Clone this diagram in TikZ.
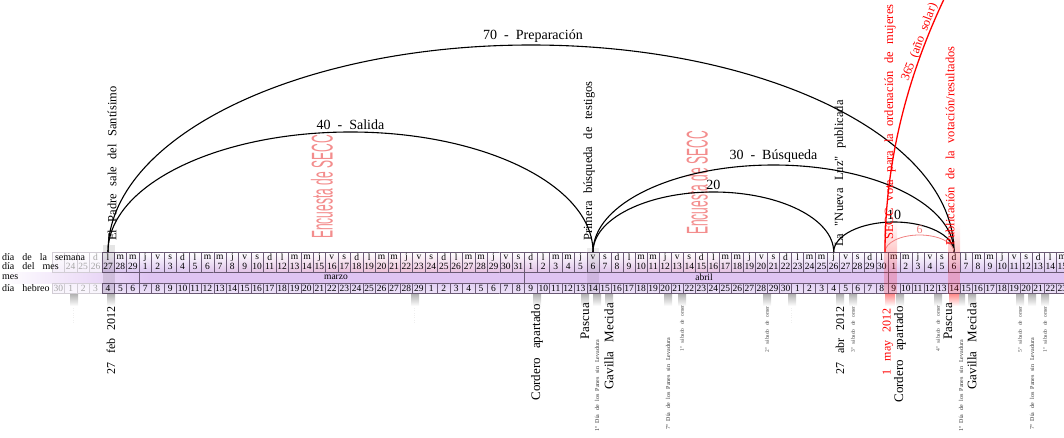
\documentclass[tikz,border=0pt]{standalone}
\usepackage{fontspec}
\setmainfont{Liberation Serif}[Ligatures=TeXOff]
\newfontfamily\condsans{Liberation Sans}
\definecolor{lav}{HTML}{DCC6F0}
\definecolor{pinkc}{HTML}{F2BCD0}
\definecolor{monthc}{HTML}{DFC4F2}
\definecolor{hebc}{HTML}{E2D0F4}
\definecolor{cellline}{HTML}{6A5A74}
\definecolor{seccred}{HTML}{EE5C5C}
\definecolor{lightred}{HTML}{F08080}
\tikzset{
  wide/.style={execute at begin node={\spaceskip=#1em\relax}},
  arcline/.style={line width=1.1pt, black},
  arclabel/.style={anchor=south, inner sep=1.5pt, font=\fontsize{14}{16}\selectfont, wide=0.5},
  uplabel/.style={rotate=90, anchor=west, inner sep=0pt, font=\fontsize{12.5}{14}\selectfont, wide=0.6},
  downlabel/.style={rotate=90, anchor=east, inner sep=0pt, font=\fontsize{12}{14}\selectfont, wide=0.7},
  biglabel/.style={downlabel, font=\fontsize{13}{15}\selectfont},
  smalllabel/.style={rotate=90, anchor=east, inner sep=0pt, text=black!80, font=\fontsize{6}{7}\selectfont, wide=0.6},
  tinylabel/.style={rotate=90, anchor=east, inner sep=0pt, text=black!70, font=\fontsize{5.5}{6}\selectfont, wide=0.6},
  dotlabel/.style={rotate=90, anchor=east, inner sep=0pt, text=black!40, font=\fontsize{4}{5}\selectfont},
  rowlabel/.style={anchor=west, inner sep=0pt, font=\fontsize{10}{11}\selectfont, wide=0.8},
  celltext/.style={inner sep=0pt, font=\fontsize{9.5}{10}\selectfont},
  shadowbar/.style={top color=black!30, bottom color=white},
  redbar/.style={top color=red!45, bottom color=white},
  encuesta/.style={rotate=90, inner sep=0pt, text=seccred, opacity=0.7, font=\condsans\fontsize{30}{30}\selectfont},
}
\begin{document}
\begin{tikzpicture}[x=1pt,y=1pt]
\useasboundingbox (0,0) rectangle (1064,-438);
\clip (0,0) rectangle (1064,-438);
% red glow columns above the table
\path[top color=white, bottom color=red!22] (884,-222) rectangle (897,-252);
\path[top color=white, bottom color=red!22] (948,-222) rectangle (960,-252);
% survey texts
\node[encuesta] (enc1) at (322,-187) {\scalebox{0.4}[1]{Encuesta de SECC}};
\node[encuesta] (enc2) at (697,-183) {\scalebox{0.4}[1]{Encuesta de SECC}};
% month band
\path[left color=white, right color=monthc] (0,-272) rectangle (150,-283);
\fill[monthc] (150,-272) rectangle (1064,-283);
\draw[cellline, line width=0.4pt] (139.1,-272) -- (139.1,-283);
\draw[cellline, line width=0.4pt] (524.6,-272) -- (524.6,-283);
\draw[cellline, line width=0.4pt] (887.8,-272) -- (887.8,-283);
\node[celltext] (marzo) at (336,-277.5) {marzo};
\node[celltext] (abril) at (704,-277.5) {abril};
% day cells
\foreach \d in {-4,...,78}{
  \pgfmathsetmacro{\myx}{\d<40 ? 108+12.436*\d : 593+12.033*(\d-39)}
  \pgfmathsetmacro{\myhw}{\d<40 ? 6.218 : 6.017}
  \pgfmathsetmacro{\mypk}{max(0, 1-abs(\myx-390)/220, 0.7*(1-abs(\myx-690)/120))*80}
  \pgfmathtruncatemacro{\mywk}{mod(\d+28,7)}
  \pgfmathtruncatemacro{\mydm}{\d<3 ? \d+27 : (\d<34 ? \d-2 : (\d<64 ? \d-33 : \d-63))}
  \pgfmathtruncatemacro{\myhd}{\d<-3 ? 30 : (\d<26 ? \d+4 : (\d<56 ? \d-25 : \d-55))}
  \ifnum\d<0
    \def\mycf{lav!30!white}\def\myhf{hebc!30!white}\def\mycd{cellline!30}\def\myct{black!35}
  \else
    \colorlet{cellc}{pinkc!\mypk!lav}\def\mycf{cellc}\def\myhf{hebc}\def\mycd{cellline}\def\myct{black}
  \fi
  \path[draw=\mycd, line width=0.4pt, top color=white, bottom color=\mycf] (\myx-\myhw,-252) rectangle (\myx+\myhw,-272);
  \ifnum\d>-2
    \node[celltext, text=\myct] (wk\d) at (\myx,-257) {\ifcase\mywk l\or m\or m\or j\or v\or s\or d\fi};
  \fi
  \ifnum\d>-4
    \node[celltext, text=\myct] (dm\d) at (\myx,-266.5) {\mydm};
  \fi
  \path[draw=\mycd, line width=0.4pt, top color=\myhf, bottom color=white!40!\myhf] (\myx-\myhw,-283) rectangle (\myx+\myhw,-293.5);
  \node[celltext, text=\myct] (hb\d) at (\myx,-288.5) {\myhd};
}
% row labels
\node[rowlabel] (lsem) at (2,-257) {día de la semana};
\node[rowlabel] (lmes) at (2,-266.5) {día del mes};
\node[rowlabel] (lm) at (2,-277.5) {mes};
\node[rowlabel] (lheb) at (2,-288.5) {día hebreo};
% translucent bands through the table
\fill[black, opacity=0.10] (103,-245) rectangle (115,-294);
\fill[black, opacity=0.07] (587,-248) rectangle (599,-294);
\fill[red, opacity=0.18] (884,-252) rectangle (897,-294);
\fill[red, opacity=0.18] (948,-252) rectangle (960,-294);
% shadow bars below the table
\foreach \bx in {74,111,415,537,585,597,609,668,682,767,792,840,853,900,938,961,972,1020,1032,1045}
  \path[shadowbar] (\bx-4,-294) rectangle (\bx+4,-306);
\foreach \bx in {890,954}
  \path[redbar] (\bx-5,-294) rectangle (\bx+5,-306);
% arc end points
\coordinate (pA) at (108,-252);
\coordinate (pB) at (593,-252);
\coordinate (pC) at (833.7,-252);
\coordinate (pD) at (954,-252);
\coordinate (pE) at (885,-252);
% arcs
\draw[arcline] (pA) arc[start angle=180, end angle=0, x radius=423pt, y radius=207pt];
\draw[arcline] (pA) arc[start angle=180, end angle=0, x radius=242.5pt, y radius=120pt];
\draw[arcline] (pB) arc[start angle=180, end angle=0, x radius=180.5pt, y radius=87pt];
\draw[arcline] (pB) arc[start angle=180, end angle=0, x radius=120.35pt, y radius=60pt];
\draw[arcline] (pC) arc[start angle=180, end angle=0, x radius=60.15pt, y radius=30pt];
\draw[lightred, line width=0.8pt] (pE) arc[start angle=180, end angle=0, x radius=34.5pt, y radius=17pt];
\draw[red, line width=1.3pt] (pE) arc[start angle=180, end angle=166, x radius=2196pt, y radius=1098pt];
% arc labels
\node[arclabel] (l70) at (533,-44) {70 - Preparación};
\node[arclabel] (l40) at (350.5,-131) {40 - Salida};
\node[arclabel] (l30) at (773.5,-164) {30 - Búsqueda};
\node[arclabel] (l20) at (713.4,-191) {20};
\node[arclabel] (l10) at (894,-221) {10};
\node[arclabel, text=lightred, font=\fontsize{12}{14}\selectfont] (l6) at (919.5,-235) {6};
\node[rotate=69.5, anchor=south, inner sep=1.5pt, text=red, font=\fontsize{12.5}{14}\selectfont, wide=0.5] (l365) at (926.5,-45) {365 (año solar)};
% labels above the table
\node[uplabel] (padre) at (112,-241) {El Padre sale del Santísimo};
\node[uplabel] (busq) at (589,-241) {Primera búsqueda de testigos};
\node[uplabel] (luz) at (840,-247) {La "Nueva Luz" publicada};
\node[uplabel, text=red] (vota) at (890,-240) {SECC vota para la ordenación de mujeres};
\node[uplabel, text=red] (publ) at (950,-246) {Publicación de la votación/resultados};
% labels below the table
\node[dotlabel] (t1) at (74,-308) {· · · · · · ·};
\node[downlabel] (f27) at (111,-306) {27 feb 2012};
\node[dotlabel] (t2) at (415,-308) {· · · · · · ·};
\node[biglabel] (cord1) at (537,-304) {Cordero apartado};
\node[biglabel] (pas1) at (585,-303) {Pascua};
\node[smalllabel] (pan1) at (597,-340) {1º Día de los Panes sin Levadura};
\node[biglabel] (gav1) at (609,-303) {Gavilla Mecida};
\node[smalllabel] (pan7) at (668,-338) {7º Día de los Panes sin Levadura};
\node[tinylabel] (om1) at (682,-305) {1º sábado de omer};
\node[tinylabel] (om2) at (767,-306) {2º sábado de omer};
\node[dotlabel] (t3) at (792,-308) {· · · · · · ·};
\node[downlabel] (a27) at (840,-306) {27 abr 2012};
\node[tinylabel] (om3) at (853,-306) {3º sábado de omer};
\node[downlabel, text=red] (m1) at (888,-308) {1 may 2012};
\node[biglabel] (cord2) at (900,-306) {Cordero apartado};
\node[tinylabel] (om4) at (938,-305) {4º sábado de omer};
\node[biglabel] (pas2) at (948,-303) {Pascua};
\node[smalllabel] (pan1b) at (961,-340) {1º Día de los Panes sin Levadura};
\node[biglabel] (gav2) at (972,-303) {Gavilla Mecida};
\node[tinylabel] (om5) at (1020,-306) {5º sábado de omer};
\node[smalllabel] (pan7b) at (1032,-338) {7º Día de los Panes sin Levadura};
\node[tinylabel] (om1b) at (1045,-306) {1º sábado de omer};
\end{tikzpicture}
\end{document}
